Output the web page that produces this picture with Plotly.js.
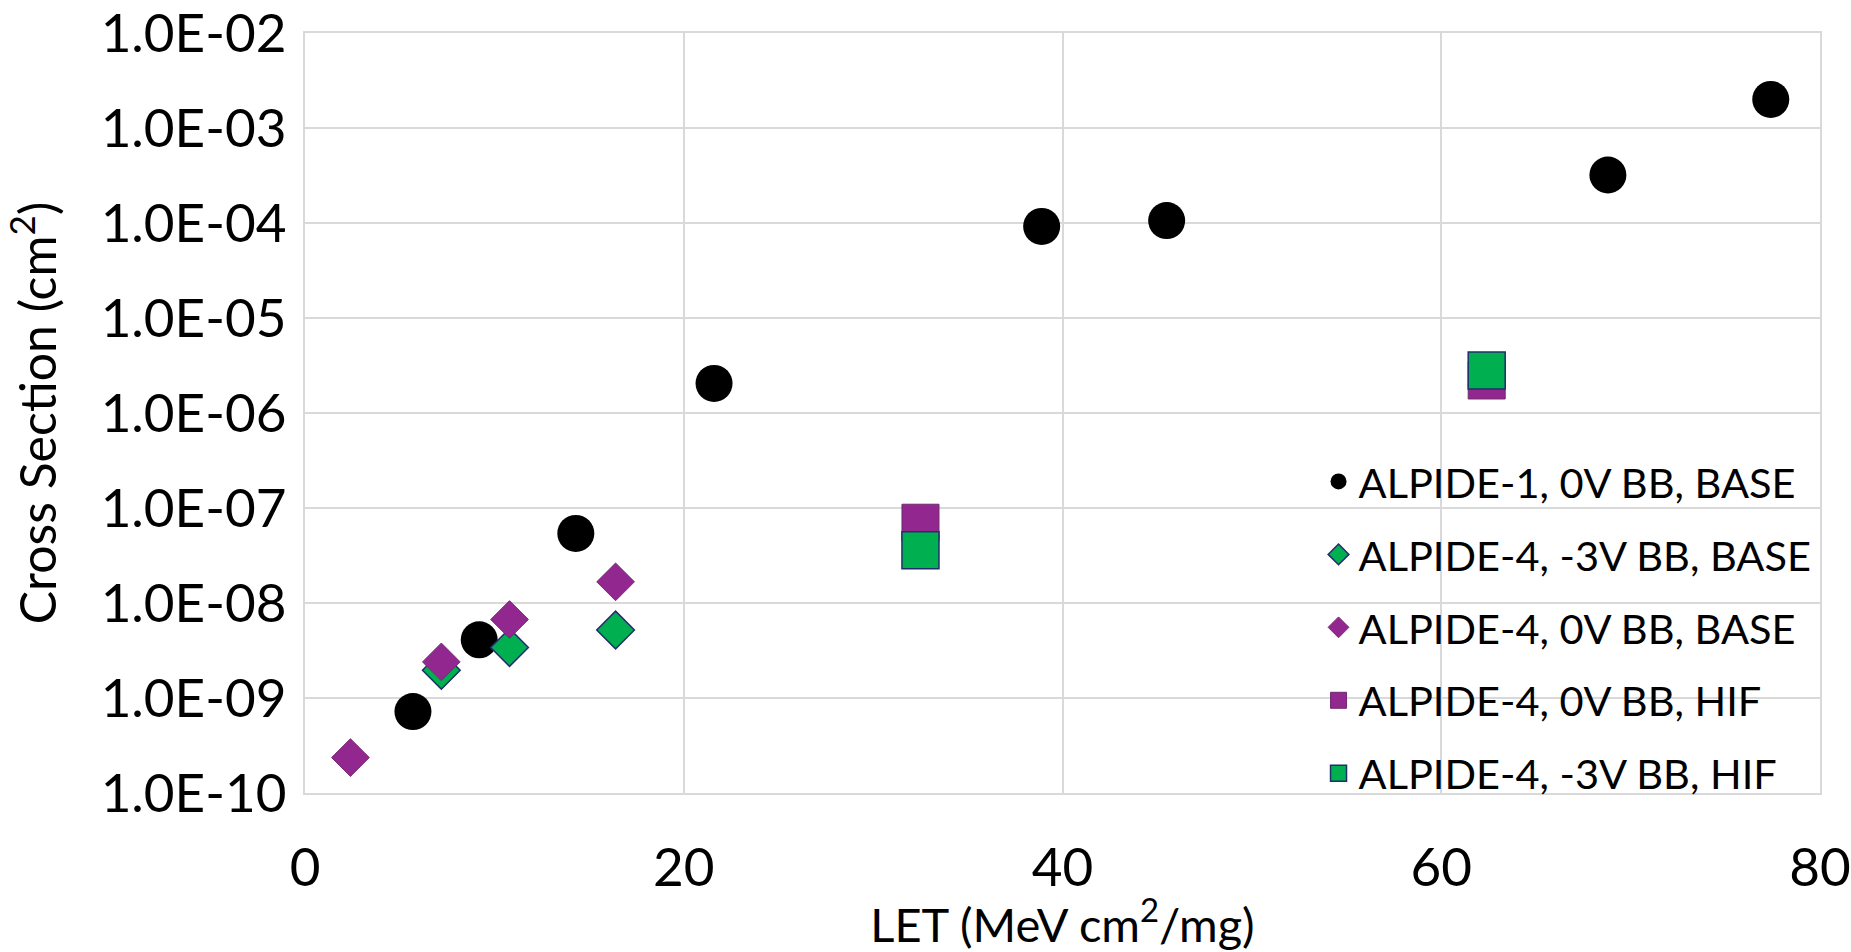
<!DOCTYPE html>
<html>
<head>
<meta charset="utf-8">
<script src="https://cdn.plot.ly/plotly-3.0.1.min.js"></script>
<style>html,body{margin:0;padding:0;background:#fff;}#chart{width:1851px;height:952px;}</style>
</head>
<body>
<div id="chart"></div>
<script>
// ---- data ----
const a1_0V_base_x = [5.7, 9.2, 14.3, 21.6, 38.9, 45.5, 68.8, 77.4];
const a1_0V_base_y = [7.2e-10, 4.1e-9, 5.4e-8, 2.05e-6, 9.2e-5, 1.06e-4, 3.2e-4, 2.0e-3];

const a4_m3V_base_x = [7.2, 10.8, 16.4];
const a4_m3V_base_y = [1.96e-9, 3.4e-9, 5.2e-9];

const a4_0V_base_x = [2.4, 7.2, 10.8, 16.4];
const a4_0V_base_y = [2.36e-10, 2.4e-9, 6.7e-9, 1.67e-8];

const a4_0V_hif_x = [32.5, 62.4];
const a4_0V_hif_y = [7.0e-8, 2.2e-6];

const a4_m3V_hif_x = [32.5, 62.4];
const a4_m3V_hif_y = [3.6e-8, 2.8e-6];

const seriesNames = [
  "ALPIDE-1, 0V BB, BASE",
  "ALPIDE-4, -3V BB, BASE",
  "ALPIDE-4, 0V BB, BASE",
  "ALPIDE-4, 0V BB, HIF",
  "ALPIDE-4, -3V BB, HIF"
];

const yTickVals = [1e-10, 1e-9, 1e-8, 1e-7, 1e-6, 1e-5, 1e-4, 1e-3, 1e-2];
const yTickText = ["1.0E-10", "1.0E-09", "1.0E-08", "1.0E-07", "1.0E-06", "1.0E-05", "1.0E-04", "1.0E-03", "1.0E-02"];
const xTickVals = [0, 20, 40, 60, 80];

const xTitle = "LET (MeV cm<sup>2</sup>/mg)";
const yTitle = "Cross Section (cm<sup>2</sup>)";

// ---- styles ----
const FONT = "Lato, 'Carlito', Calibri, sans-serif";
const GREEN = "#00B050";
const PURPLE = "#92278F";
const NAVY = "#1F2F6B";

const traces = [
  {x: a1_0V_base_x, y: a1_0V_base_y, name: seriesNames[0], legendgroup: "g1",
   marker: {symbol: "circle", size: 37, color: "#000000", line: {width: 0}}},
  {x: a4_m3V_base_x, y: a4_m3V_base_y, name: seriesNames[1], legendgroup: "g2",
   marker: {symbol: "diamond", size: 29, color: GREEN, line: {width: 1.5, color: NAVY}}},
  {x: a4_0V_base_x, y: a4_0V_base_y, name: seriesNames[2], legendgroup: "g3",
   marker: {symbol: "diamond", size: 29, color: PURPLE, line: {width: 1, color: "#7a2a78"}}},
  {x: a4_0V_hif_x, y: a4_0V_hif_y, name: seriesNames[3], legendgroup: "g4",
   marker: {symbol: "square", size: 37, color: PURPLE, line: {width: 1, color: "#6e2a6c"}}},
  {x: a4_m3V_hif_x, y: a4_m3V_hif_y, name: seriesNames[4], legendgroup: "g5",
   marker: {symbol: "square", size: 37, color: GREEN, line: {width: 1.5, color: NAVY}}}
].map(t => Object.assign({type: "scatter", mode: "markers", hoverinfo: "x+y"}, t));

const layout = {
  width: 1851, height: 952,
  paper_bgcolor: "#ffffff", plot_bgcolor: "#ffffff",
  font: {family: FONT, size: 53, color: "#000000"},
  margin: {l: 305, r: 31, t: 33, b: 159, pad: 0},
  showlegend: true,
  legend: {
    x: 0.669, xanchor: "left", y: 0.454, yanchor: "top",
    bgcolor: "rgba(255,255,255,0)", borderwidth: 0,
    font: {family: FONT, size: 41.5, color: "#000000"},
    traceorder: "grouped", tracegroupgap: 16, itemsizing: "trace"
  },
  xaxis: {
    range: [0, 80], tickvals: xTickVals, ticks: "", ticklabelstandoff: 27,
    ticklabeloverflow: "allow",
    showgrid: true, gridcolor: "#d9d9d9", gridwidth: 2,
    zeroline: false, showline: true, linecolor: "#d9d9d9", linewidth: 2, mirror: true,
    tickfont: {family: FONT, size: 53},
    title: {text: xTitle, font: {family: FONT, size: 47}, standoff: 8}
  },
  yaxis: {
    type: "log", range: [-10, -2], tickvals: yTickVals, ticktext: yTickText,
    ticks: "", ticklabelstandoff: 6, ticklabeloverflow: "allow",
    showgrid: true, gridcolor: "#d9d9d9", gridwidth: 2,
    zeroline: false, showline: true, linecolor: "#d9d9d9", linewidth: 2, mirror: true,
    tickfont: {family: FONT, size: 53},
    title: {text: yTitle, font: {family: FONT, size: 50}, standoff: 28}
  }
};

Plotly.newPlot("chart", traces, layout, {displayModeBar: false, staticPlot: true});
</script>
</body>
</html>
